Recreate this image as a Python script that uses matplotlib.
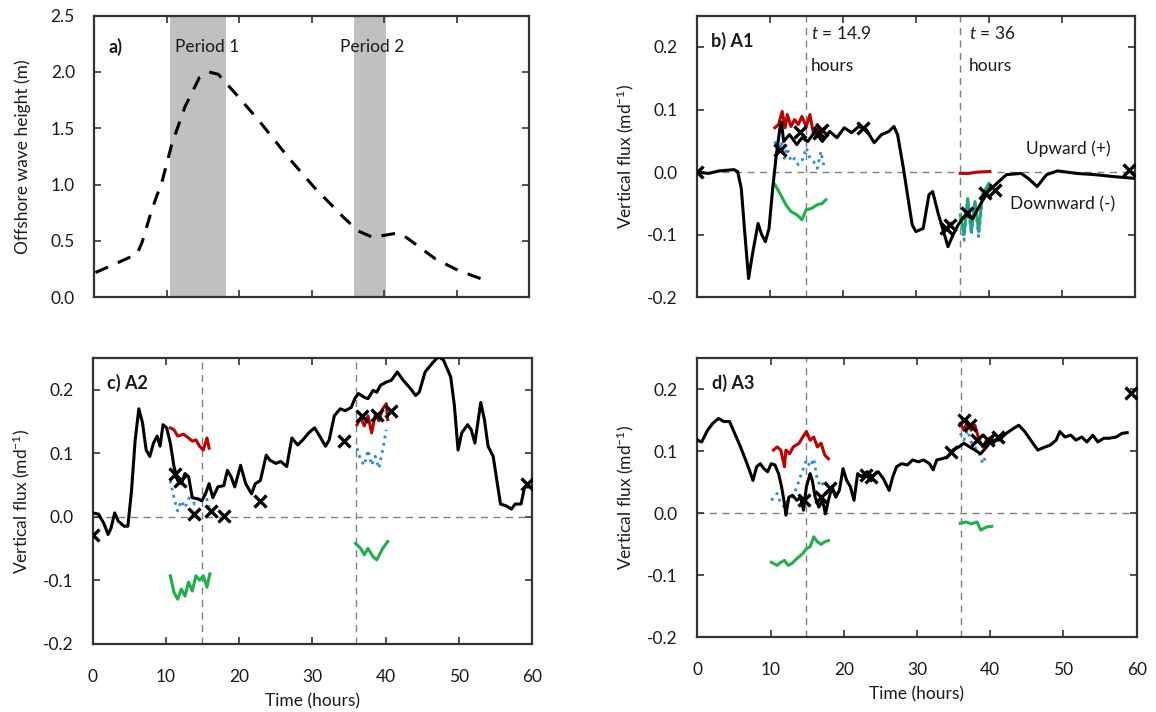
import matplotlib.pyplot as plt

plt.rcParams['font.family'] = ['Lato', 'DejaVu Sans']
plt.rcParams['mathtext.fontset'] = 'custom'
plt.rcParams['mathtext.rm'] = 'Lato'
plt.rcParams['mathtext.it'] = 'Lato:italic'
plt.rcParams['mathtext.bf'] = 'Lato:bold'

# a) offshore wave height
wave_t = [0.15, 2.3, 5.9, 6.6, 7.9, 9.4, 10.7, 12.5, 14.5, 15.8, 17.1, 19.6, 22.7, 26.8,
          30.3, 34.4, 36.4, 38.5, 40.0, 41.8, 43.1, 47.1, 50.2, 54.0]
wave_h = [0.22, 0.28, 0.385, 0.49, 0.77, 1.04, 1.36, 1.69, 1.95, 2.0, 1.98, 1.80, 1.57, 1.24,
          0.98, 0.71, 0.59, 0.53, 0.55, 0.57, 0.53, 0.34, 0.24, 0.15]
periods = [(10.5, 18.2, 'Period 1'), (35.9, 40.2, 'Period 2')]

# b) A1
a1_t = [0, 1.6, 3.1, 5.1, 5.6, 6.1, 6.6, 7.1, 7.6, 8.4, 8.9, 9.4, 9.9, 10.4, 10.9, 11.4, 11.6,
        11.9, 12.7, 13.7, 14.4, 15.2, 16.2, 17.2, 18.2, 19.2, 20.2, 21.2, 22.2, 23.2, 24.3,
        25.3, 26.3, 27.0, 27.5, 28.3, 29.0, 29.5, 30.0, 31.0, 31.8, 32.3, 33.1, 33.8, 34.4,
        35.1, 35.8, 36.8, 37.8, 38.8, 39.9, 40.9, 42.4, 44.4, 45.4, 46.6, 47.9, 49.4, 52.0,
        54.5, 57.0, 60]
a1_q = [0.0, -0.002, 0.002, 0.004, 0.001, -0.026, -0.10, -0.17, -0.133, -0.082, -0.10, -0.111,
        -0.09, -0.026, 0.028, 0.071, 0.08, 0.049, 0.06, 0.044, 0.055, 0.049, 0.065, 0.049, 0.065,
        0.055, 0.071, 0.063, 0.073, 0.068, 0.047, 0.06, 0.065, 0.073, 0.06, 0.006, -0.047,
        -0.084, -0.095, -0.09, -0.036, -0.031, -0.068, -0.095, -0.119, -0.1, -0.084, -0.068,
        -0.074, -0.052, -0.031, -0.020, -0.004, -0.002, -0.01, -0.023, -0.004, 0.002, -0.002,
        -0.004, -0.007, -0.01]
a1_xt = [0, 11.4, 14.1, 16.7, 17.1, 22.8, 34.1, 34.7, 37.0, 39.5, 40.8, 59.2]
a1_xq = [0, 0.035, 0.064, 0.063, 0.067, 0.07, -0.09, -0.085, -0.066, -0.034, -0.029, 0.004]
a1_red = [([10.7, 11.2, 11.7, 12.1, 12.4, 12.9, 13.4, 13.9, 14.4, 15.0, 15.5, 16.0, 16.5, 17.0, 17.5],
           [0.071, 0.076, 0.097, 0.071, 0.092, 0.073, 0.084, 0.076, 0.089, 0.073, 0.092, 0.06,
            0.076, 0.06, 0.055]),
          ([36.1, 37.3, 38.3, 40.1], [-0.002, -0.002, 0.0, 0.001])]
a1_blue = [([10.7, 11.2, 11.6, 12.0, 12.4, 12.9, 13.4, 13.9, 14.4, 15.0, 15.5, 16.0, 16.5, 17.0, 17.5],
            [0.049, 0.033, 0.049, 0.022, 0.039, 0.017, 0.022, 0.012, 0.017, 0.039, 0.022, 0.017,
             0.006, 0.033, 0.004]),
           ([36.1, 36.6, 37.1, 37.6, 38.1, 38.6, 39.1, 39.6, 40.0],
            [-0.074, -0.109, -0.047, -0.1, -0.052, -0.103, -0.042, -0.031, -0.023])]
a1_green = [([10.7, 11.4, 12.2, 12.9, 13.7, 14.4, 15.0, 15.7, 16.5, 17.2, 17.7],
             [-0.02, -0.034, -0.052, -0.063, -0.068, -0.076, -0.06, -0.058, -0.052, -0.05, -0.044]),
            ([36.1, 36.6, 37.1, 37.6, 38.1, 38.6, 39.1, 39.6, 40.0],
             [-0.068, -0.1, -0.042, -0.095, -0.047, -0.095, -0.036, -0.026, -0.018])]

# c) A2
a2_t = [0, 0.8, 1.5, 2.1, 2.5, 3.0, 3.5, 4.3, 4.8, 5.3, 5.8, 6.3, 6.8, 7.3, 7.8, 8.3, 8.8, 9.2,
        9.6, 10.1, 10.6, 11.1, 11.6, 12.1, 12.6, 13.1, 13.6, 14.4, 14.9, 15.4, 15.9, 16.4, 17.1,
        17.9, 18.4, 18.9, 19.4, 20.2, 20.9, 21.7, 22.2, 22.9, 23.7, 24.2, 25.0, 25.7, 26.5,
        27.2, 28.0, 28.7, 29.5, 30.3, 31.0, 31.8, 32.3, 33.0, 33.8, 34.5, 35.3, 35.8, 36.3,
        37.1, 37.6, 38.3, 38.8, 39.3, 40.1, 40.8, 41.6, 42.4, 43.4, 44.1, 44.6, 45.4, 46.4,
        47.2, 47.9, 48.9, 49.4, 49.9, 50.4, 51.2, 51.7, 52.2, 53.0, 53.5, 54.0, 54.7, 55.2,
        55.7, 56.5, 57.2, 57.7, 58.5, 59.0, 60]
a2_q = [0.006, 0.004, -0.01, -0.028, -0.018, 0.006, -0.007, -0.015, -0.015, 0.041, 0.121, 0.17,
        0.148, 0.105, 0.095, 0.116, 0.127, 0.111, 0.145, 0.14, 0.116, 0.079, 0.057, 0.052, 0.068,
        0.063, 0.03, 0.028, 0.025, 0.036, 0.052, 0.03, 0.047, 0.049, 0.073, 0.063, 0.047, 0.081,
        0.052, 0.036, 0.052, 0.057, 0.097, 0.089, 0.084, 0.087, 0.079, 0.124, 0.113, 0.121,
        0.132, 0.14, 0.127, 0.111, 0.121, 0.159, 0.17, 0.167, 0.172, 0.186, 0.194, 0.188, 0.186,
        0.199, 0.196, 0.207, 0.212, 0.215, 0.228, 0.215, 0.202, 0.191, 0.196, 0.228, 0.242,
        0.252, 0.247, 0.22, 0.175, 0.105, 0.132, 0.145, 0.137, 0.116, 0.18, 0.153, 0.111, 0.095,
        0.057, 0.02, 0.017, 0.012, 0.02, 0.02, 0.047, 0.047]
a2_xt = [0, 11.3, 11.9, 13.9, 16.1, 17.9, 22.9, 34.3, 36.8, 38.8, 40.8, 59.3]
a2_xq = [-0.028, 0.068, 0.057, 0.004, 0.009, 0.001, 0.025, 0.119, 0.159, 0.161, 0.167, 0.052]
a2_red = [([10.6, 11.1, 11.6, 12.4, 13.1, 13.6, 14.1, 14.6, 15.1, 15.6, 15.9],
           [0.14, 0.137, 0.127, 0.13, 0.124, 0.119, 0.121, 0.111, 0.105, 0.124, 0.108]),
          ([36.1, 36.6, 37.1, 37.6, 38.1, 38.6, 39.1, 39.6, 40.1, 40.3],
           [0.145, 0.156, 0.143, 0.159, 0.132, 0.161, 0.151, 0.17, 0.178, 0.153])]
a2_blue = [([10.6, 11.1, 11.6, 12.1, 12.6, 13.4, 13.9, 14.6, 15.4, 15.9],
            [0.057, 0.03, 0.009, 0.025, 0.014, 0.036, 0.02, 0.03, 0.036, 0.014]),
           ([36.1, 36.6, 37.1, 37.6, 38.1, 38.6, 39.1, 39.6, 40.1],
            [0.108, 0.089, 0.081, 0.105, 0.081, 0.095, 0.076, 0.105, 0.137])]
a2_green = [([10.6, 11.1, 11.6, 12.1, 12.6, 13.1, 13.6, 14.1, 14.6, 15.1, 15.6, 16.0],
             [-0.093, -0.119, -0.13, -0.114, -0.125, -0.103, -0.117, -0.093, -0.1, -0.093,
              -0.111, -0.09]),
            ([35.9, 36.6, 37.1, 37.6, 38.3, 38.8, 39.6, 40.3],
             [-0.042, -0.05, -0.06, -0.05, -0.063, -0.068, -0.05, -0.039])]

# d) A3
a3_t = [0, 0.6, 1.4, 2.1, 2.9, 3.6, 4.4, 5.1, 5.9, 6.6, 7.1, 7.6, 8.1, 8.6, 9.1, 9.6, 10.1,
        10.6, 11.1, 11.5, 11.9, 12.1, 12.5, 13.0, 13.6, 14.1, 14.5, 14.9, 15.4, 15.7, 16.1,
        16.6, 17.1, 17.5, 17.9, 18.4, 18.9, 19.4, 19.9, 20.4, 20.9, 21.4, 21.9, 22.4, 23.2,
        23.9, 24.7, 25.4, 26.2, 26.7, 27.2, 27.9, 28.7, 29.4, 30.2, 30.9, 31.7, 32.2, 32.7,
        33.4, 34.2, 34.9, 35.7, 36.4, 37.2, 37.9, 38.7, 39.5, 40.2, 41.2, 42.2, 43.2, 43.9,
        44.7, 45.7, 46.5, 47.5, 48.2, 49.0, 49.5, 50.2, 51.0, 51.7, 52.5, 53.2, 54.0, 54.7,
        55.5, 56.2, 57.2, 58.0, 58.7]
a3_q = [0.118, 0.115, 0.134, 0.145, 0.153, 0.148, 0.148, 0.129, 0.107, 0.086, 0.07, 0.053,
        0.075, 0.08, 0.072, 0.067, 0.08, 0.078, 0.064, 0.043, 0.016, -0.003, 0.026, 0.029,
        0.021, 0.026, 0.005, 0.043, 0.064, 0.053, 0.026, 0.01, 0.021, -0.001, 0.021, 0.043,
        0.026, 0.037, 0.072, 0.053, 0.043, 0.021, 0.064, 0.059, 0.067, 0.059, 0.067, 0.056,
        0.037, 0.059, 0.075, 0.08, 0.078, 0.086, 0.083, 0.086, 0.08, 0.07, 0.086, 0.088, 0.091,
        0.102, 0.107, 0.113, 0.107, 0.102, 0.096, 0.107, 0.118, 0.118, 0.129, 0.137, 0.142,
        0.132, 0.115, 0.102, 0.107, 0.11, 0.118, 0.132, 0.123, 0.126, 0.118, 0.123, 0.115,
        0.126, 0.115, 0.121, 0.121, 0.123, 0.129, 0.13]
a3_xt = [14.6, 16.9, 18.1, 23.0, 23.7, 34.7, 36.4, 37.2, 38.2, 39.7, 41.0, 59.2]
a3_xq = [0.021, 0.026, 0.04, 0.061, 0.059, 0.099, 0.15, 0.142, 0.118, 0.118, 0.123, 0.194]
a3_red = [([10.4, 10.9, 11.4, 11.9, 12.1, 12.6, 13.1, 13.9, 14.4, 14.9, 15.4, 15.9, 16.4, 16.9,
            17.4, 17.9],
           [0.102, 0.107, 0.102, 0.075, 0.102, 0.096, 0.107, 0.113, 0.123, 0.132, 0.118, 0.123,
            0.107, 0.113, 0.094, 0.088]),
          ([35.9, 36.4, 36.9, 37.4, 37.9, 38.5, 39.0, 39.5, 40.2],
           [0.145, 0.134, 0.148, 0.134, 0.142, 0.118, 0.107, 0.118, 0.123])]
a3_blue = [([10.1, 10.9, 11.4, 11.9, 12.4, 12.9, 13.4, 13.9, 14.4, 14.9, 15.4, 15.9, 16.4, 16.9,
             17.4, 17.9],
            [0.021, 0.032, 0.016, 0.01, 0.021, 0.026, 0.037, 0.053, 0.07, 0.086, 0.075, 0.088,
             0.053, 0.043, 0.053, 0.043]),
           ([35.9, 36.4, 36.9, 37.4, 37.9, 38.5, 39.0, 39.5],
            [0.129, 0.118, 0.134, 0.115, 0.107, 0.096, 0.08, 0.096])]
a3_green = [([10.1, 10.9, 11.4, 11.9, 12.4, 12.9, 13.6, 14.4, 14.9, 15.4, 15.9, 16.4, 16.9,
              17.4, 17.9],
             [-0.079, -0.084, -0.079, -0.076, -0.084, -0.081, -0.073, -0.065, -0.057, -0.054,
              -0.038, -0.046, -0.05, -0.046, -0.044]),
            ([35.9, 36.7, 37.4, 38.2, 38.7, 39.5, 40.2],
             [-0.016, -0.014, -0.017, -0.014, -0.027, -0.022, -0.021])]

snapshots = [14.9, 36]
hour_ticks = [0, 10, 20, 30, 40, 50, 60]
flux_ticks = [-0.2, -0.1, 0.0, 0.1, 0.2]

RED = '#c00000'
BLUE = '#2f8bd6'
GREEN = '#1fb04c'
GRID = '#7f7f7f'
TXT = '#1a1a1a'


def style_axes(ax, show_x):
    ax.set_xlim(0, 60)
    ax.set_xticks(hour_ticks)
    ax.tick_params(direction='in', top=True, right=True, length=5, width=1.2,
                   labelsize=12.5, colors='#333333', labelcolor=TXT, pad=14,
                   labelbottom=show_x)
    ax.tick_params(axis='x', pad=18)
    for s in ax.spines.values():
        s.set_linewidth(1.6)
        s.set_color('#333333')
    if show_x:
        ax.set_xlabel('Time (hours)', fontsize=12.5, color=TXT, labelpad=6)


def flux_panel(ax, t, q, xt, xq, red, blue, green, tag, show_x):
    ax.axhline(0, color=GRID, lw=1, ls=(0, (5, 4)), zorder=1)
    for s in snapshots:
        ax.axvline(s, color=GRID, lw=1, ls=(0, (5, 4)), zorder=1)
    for st, sq in green:
        ax.plot(st, sq, color=GREEN, lw=2.2, zorder=2)
    for st, sq in red:
        ax.plot(st, sq, color=RED, lw=2.2, zorder=2)
    for st, sq in blue:
        ax.plot(st, sq, color=BLUE, lw=2, ls=':', zorder=3)
    ax.plot(t, q, color='black', lw=2.2, zorder=4)
    ax.plot(xt, xq, ls='none', marker='x', ms=9, mew=2.4, color='black', zorder=5)
    ax.set_ylim(-0.2, 0.25)
    ax.set_yticks(flux_ticks)
    ax.set_yticklabels(['%.1f' % v for v in flux_ticks])
    ax.set_ylabel('Vertical flux (md$^{\\mathregular{-1}}$)', fontsize=12.5, color=TXT,
                  labelpad=8)
    ax.text(2.0, 0.21, tag, fontsize=13, fontweight='bold', color=TXT, va='center')
    style_axes(ax, show_x)


fig = plt.figure(figsize=(11.56, 7.12), dpi=100)
ax_a = fig.add_axes([0.0816, 0.5824, 0.376, 0.3956])
ax_b = fig.add_axes([0.6027, 0.5824, 0.3791, 0.3956])
ax_c = fig.add_axes([0.0802, 0.0959, 0.380, 0.4013])
ax_d = fig.add_axes([0.6032, 0.1049, 0.3801, 0.3919])

# wave height with the two analysis periods
for start, end, name in periods:
    ax_a.axvspan(start, end, color='#c0c0c0', lw=0, zorder=0)
ax_a.plot(wave_t, wave_h, color='black', lw=2.2, ls=(0, (4.5, 3.5)))
ax_a.set_ylim(0, 2.5)
ax_a.set_yticks([0, 0.5, 1.0, 1.5, 2.0, 2.5])
ax_a.set_yticklabels(['0.0', '0.5', '1.0', '1.5', '2.0', '2.5'])
ax_a.set_ylabel('Offshore wave height (m)', fontsize=12.5, color=TXT, labelpad=14)
ax_a.text(2.0, 2.22, 'a)', fontsize=13, fontweight='bold', color=TXT, va='center')
ax_a.text(11.1, 2.22, 'Period 1', fontsize=12.5, color=TXT, va='center')
ax_a.text(33.9, 2.22, 'Period 2', fontsize=12.5, color=TXT, va='center')
style_axes(ax_a, False)

flux_panel(ax_b, a1_t, a1_q, a1_xt, a1_xq, a1_red, a1_blue, a1_green, 'b) A1', False)
ax_b.text(15.6, 0.222, '$\\mathit{t}$ = 14.9', fontsize=12.5, color=TXT, va='center')
ax_b.text(15.6, 0.169, 'hours', fontsize=12.5, color=TXT, va='center')
ax_b.text(37.3, 0.222, '$\\mathit{t}$ = 36', fontsize=12.5, color=TXT, va='center')
ax_b.text(37.3, 0.169, 'hours', fontsize=12.5, color=TXT, va='center')
ax_b.text(45.1, 0.038, 'Upward (+)', fontsize=12.5, color=TXT, va='center')
ax_b.text(42.9, -0.052, 'Downward (-)', fontsize=12.5, color=TXT, va='center')

flux_panel(ax_c, a2_t, a2_q, a2_xt, a2_xq, a2_red, a2_blue, a2_green, 'c) A2', True)
flux_panel(ax_d, a3_t, a3_q, a3_xt, a3_xq, a3_red, a3_blue, a3_green, 'd) A3', True)

fig.savefig('out.png', dpi=100)
